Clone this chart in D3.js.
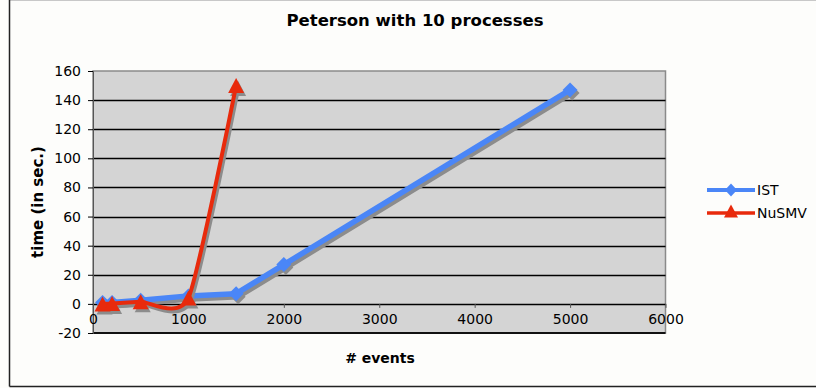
<!DOCTYPE html>
<html>
<head>
<meta charset="utf-8">
<style>
  body { margin: 0; background: #fff; }
  text { font-family: "DejaVu Sans", Verdana, sans-serif; }
</style>
</head>
<body>
<svg id="chart" width="816" height="388"></svg>
<script src="https://cdn.jsdelivr.net/npm/d3@7"></script>
<script>
    var events = [100, 200, 500, 1000, 1500, 2000, 5000];
    var istTimes = [1, 1, 2.5, 5.5, 7, 27, 147];
    var nusmvEvents = [100, 200, 500, 1000, 1500];
    var nusmvTimes = [0, 0.3, 1.5, 4, 150];
    var xTicks = [0, 1000, 2000, 3000, 4000, 5000, 6000];
    var yTicks = [-20, 0, 20, 40, 60, 80, 100, 120, 140, 160];

    var blue = "#4a86f7";
    var red = "#e82a0c";
    var shadow = "#8c8c8c";

    var svg = d3.select("svg#chart");

    // outer chart frame
    svg.append("rect").attr("x", 0).attr("y", 0).attr("width", 816).attr("height", 388).attr("fill", "#fdfdfb");
    svg.append("line").attr("x1", 9.5).attr("x2", 816).attr("y1", 0.5).attr("y2", 0.5).attr("stroke", "#c8c8c8");
    svg.append("line").attr("x1", 9.5).attr("x2", 9.5).attr("y1", 0).attr("y2", 386.5).attr("stroke", "#222").attr("stroke-width", 1.5);
    svg.append("line").attr("x1", 9.5).attr("x2", 816).attr("y1", 386.5).attr("y2", 386.5).attr("stroke", "#222").attr("stroke-width", 1.5);

    var x = d3.scaleLinear().domain([0, 6000]).range([93, 665.5]);
    var y = d3.scaleLinear().domain([-20, 160]).range([333, 71]);

    // plot area
    svg.append("rect")
      .attr("x", x(0)).attr("y", y(160))
      .attr("width", x(6000) - x(0)).attr("height", y(-20) - y(160))
      .attr("fill", "#d4d4d4").attr("stroke", "#8a8a8a").attr("stroke-width", 1.5);

    svg.append("g").selectAll("line")
      .data(yTicks.filter(d => d > -20 && d < 160))
      .join("line")
      .attr("x1", x(0)).attr("x2", x(6000))
      .attr("y1", d => Math.round(y(d)) + 0.5).attr("y2", d => Math.round(y(d)) + 0.5)
      .attr("stroke", "#000").attr("stroke-width", 1.6);

    svg.append("line")
      .attr("x1", x(0)).attr("x2", x(6000))
      .attr("y1", y(-20)).attr("y2", y(-20))
      .attr("stroke", "#111").attr("stroke-width", 1.8);

    // y axis
    var yAxis = svg.append("g")
      .attr("transform", `translate(${x(0)},0)`)
      .call(d3.axisLeft(y).tickValues(yTicks).tickSize(5).tickPadding(7).tickFormat(d => d < 0 ? "-" + Math.abs(d) : d));
    yAxis.select(".domain").attr("stroke", "#555");
    yAxis.selectAll("text").style("font-size", "14px").attr("fill", "#000");

    // x axis, crossing at 0
    var xAxis = svg.append("g")
      .attr("transform", `translate(0,${y(0)})`)
      .call(d3.axisBottom(x).tickValues(xTicks).tickSize(4).tickPadding(6).tickFormat(d3.format("d")));
    xAxis.select(".domain").remove();
    xAxis.selectAll(".tick line").attr("stroke", "#555");
    xAxis.selectAll("text").style("font-size", "14px").attr("fill", "#000");

    // titles
    svg.append("text").attr("x", 415).attr("y", 26).attr("text-anchor", "middle")
      .style("font-size", "16.5px").style("font-weight", "bold").text("Peterson with 10 processes");
    svg.append("text").attr("x", 380).attr("y", 363).attr("text-anchor", "middle")
      .style("font-size", "14px").style("font-weight", "bold").text("# events");
    svg.append("text").attr("transform", "translate(43,202) rotate(-90)").attr("text-anchor", "middle")
      .style("font-size", "15px").style("font-weight", "bold").text("time (in sec.)");

    var istData = events.map((e, i) => [e, istTimes[i]]);
    var nusmvData = nusmvEvents.map((e, i) => [e, nusmvTimes[i]]);

    var straight = d3.line().x(d => x(d[0])).y(d => y(d[1]));
    var smooth = d3.line().curve(d3.curveCardinal.tension(0.4)).x(d => x(d[0])).y(d => y(d[1]));

    function diamond(w, h) { return `M0,${-h}L${w},0L0,${h}L${-w},0Z`; }
    function triangle(w, h) { return `M0,${-h / 2}L${w / 2},${h / 2}L${-w / 2},${h / 2}Z`; }

    function drawSeries(data, gen, color, width, sym) {
      var g = svg.append("g");
      g.append("path").datum(data).attr("d", gen).attr("fill", "none")
        .attr("stroke", shadow).attr("stroke-width", width).attr("stroke-linejoin", "round")
        .attr("transform", "translate(2,3)");
      g.selectAll(".sh").data(data).join("path").attr("class", "sh")
        .attr("d", sym).attr("fill", shadow)
        .attr("transform", d => `translate(${x(d[0]) + 2},${y(d[1]) + 3})`);
      g.append("path").datum(data).attr("d", gen).attr("fill", "none")
        .attr("stroke", color).attr("stroke-width", width).attr("stroke-linejoin", "round");
      g.selectAll(".mk").data(data).join("path").attr("class", "mk")
        .attr("d", sym).attr("fill", color)
        .attr("transform", d => `translate(${x(d[0])},${y(d[1])})`);
    }

    drawSeries(istData, straight, blue, 5.5, diamond(7.5, 7.5));
    drawSeries(nusmvData, smooth, red, 4, triangle(16, 15));

    // legend
    var legend = svg.append("g");
    var items = [{name: "IST", color: blue, sym: diamond(6, 6.5), w: 4, yy: 190},
                 {name: "NuSMV", color: red, sym: triangle(14, 13), w: 3.5, yy: 213}];
    items.forEach(it => {
      legend.append("line").attr("x1", 707).attr("x2", 755).attr("y1", it.yy).attr("y2", it.yy)
        .attr("stroke", it.color).attr("stroke-width", it.w);
      legend.append("path").attr("d", it.sym).attr("fill", it.color)
        .attr("transform", `translate(731,${it.yy - (it.name === "NuSMV" ? 2 : 0)})`);
      legend.append("text").attr("x", 757).attr("y", it.yy + 5).style("font-size", "14px").text(it.name);
    });
</script>
</body>
</html>
